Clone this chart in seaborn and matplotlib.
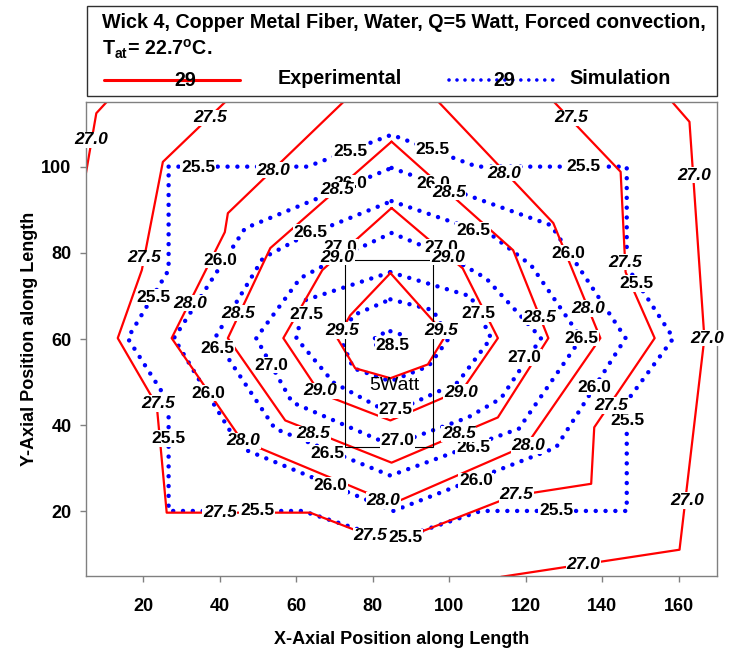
import matplotlib
matplotlib.use("Agg")
import matplotlib.pyplot as plt
from matplotlib.lines import Line2D
from matplotlib.patches import Rectangle
import pandas as pd
import seaborn as sns

# ---------------------------------------------------------------------------
# Isotherm vertices (x, y in mm) - experimental (measured) contours
# ---------------------------------------------------------------------------
exp_levels = [27.0, 27.0, 27.5, 28.0, 28.5, 29.0, 29.5]

exp_270a_x = [4.5, 7.7, 10.6]
exp_270a_y = [96.0, 112.4, 115.2]
exp_270b_x = [158.0, 162.8, 166.7, 160.2, 113.5]
exp_270b_y = [115.3, 110.4, 60.2, 11.1, 4.8]
exp_275_x = [41.4, 25.1, 19.6, 13.3, 23.5, 26.1, 63.6, 84.6, 116.7, 137.1, 137.9, 153.7, 146.1, 144.8, 127.4]
exp_275_y = [115.0, 101.1, 76.0, 60.2, 44.6, 19.7, 19.7, 12.5, 23.6, 26.4, 39.5, 60.2, 75.5, 98.8, 115.0]
exp_280_x = [72.3, 42.1, 41.3, 27.4, 45.8, 85.2, 120.1, 139.5, 127.2, 97.2]
exp_280_y = [115.0, 89.2, 84.8, 60.2, 36.4, 21.8, 35.3, 60.2, 86.9, 115.0]
exp_285_x = [84.9, 116.7, 125.9, 112.7, 84.9, 57.1, 42.1, 53.2]
exp_285_y = [105.8, 80.6, 60.2, 41.8, 31.3, 41.1, 60.2, 81.1]
exp_290_x = [84.9, 103.5, 112.7, 103.5, 84.6, 66.2, 56.6, 66.8]
exp_290_y = [90.4, 76.4, 60.2, 48.3, 41.1, 47.4, 60.2, 76.0]
exp_295_x = [84.6, 99.1, 94.4, 84.6, 75.4, 70.7, 74.1]
exp_295_y = [75.3, 60.9, 54.1, 50.9, 53.2, 60.2, 65.5]

# ---------------------------------------------------------------------------
# Isotherm vertices - simulation contours
# ---------------------------------------------------------------------------
sim_levels = [25.5, 26.0, 26.5, 27.0, 27.5, 28.0, 28.5]

sim_255_x = [26.6, 62.9, 84.9, 107.2, 146.4, 146.4, 158.6, 146.4, 146.4, 108.3, 85.2, 61.6, 26.6, 26.6, 15.9, 26.6]
sim_255_y = [100.0, 100.0, 107.4, 100.0, 100.0, 76.9, 60.2, 45.5, 20.1, 20.1, 13.2, 20.1, 20.1, 45.3, 60.2, 76.0]
sim_260_x = [84.9, 126.6, 146.1, 127.9, 85.4, 45.3, 28.0, 46.6]
sim_260_y = [99.7, 86.4, 60.2, 34.8, 20.1, 34.8, 60.2, 85.7]
sim_265_x = [84.9, 111.4, 121.4, 134.5, 118.2, 84.6, 54.4, 38.7, 51.3, 61.0]
sim_265_y = [92.0, 83.9, 77.1, 60.2, 39.2, 28.3, 39.2, 60.2, 78.8, 83.4]
sim_270_x = [84.9, 99.6, 109.6, 124.0, 113.5, 104.9, 84.9, 58.9, 49.5, 61.0, 70.2]
sim_270_y = [84.6, 79.2, 74.1, 60.2, 46.2, 41.8, 35.3, 45.3, 60.2, 74.1, 78.5]
sim_275_x = [84.6, 105.6, 110.9, 102.2, 84.6, 69.7, 60.0, 62.3]
sim_275_y = [75.5, 69.9, 60.2, 49.9, 42.7, 49.9, 60.2, 69.0]
sim_280_x = [84.6, 95.7, 99.9, 94.6, 84.6, 74.9, 71.5, 74.9]
sim_280_y = [69.2, 66.7, 60.2, 53.7, 50.2, 53.2, 60.2, 65.5]
sim_285_x = [84.6, 88.3, 89.4, 84.6, 79.9, 80.9]
sim_285_y = [61.8, 60.8, 59.0, 57.2, 59.0, 60.8]

# Heater footprint (mm)
heater_x = [72.8, 95.7]
heater_y = [35.0, 78.3]
heater_power = "5Watt"

x_ticks = [20, 40, 60, 80, 100, 120, 140, 160]
y_ticks = [20, 40, 60, 80, 100]


def polyline(level, xs, ys, piece, closed):
    xs, ys = list(xs), list(ys)
    if closed:
        xs.append(xs[0])
        ys.append(ys[0])
    return pd.DataFrame({"x": xs, "y": ys, "level": level, "piece": piece})


exp_df = pd.concat([
    polyline(exp_levels[0], exp_270a_x, exp_270a_y, "270a", False),
    polyline(exp_levels[1], exp_270b_x, exp_270b_y, "270b", False),
    polyline(exp_levels[2], exp_275_x, exp_275_y, "275", False),
    polyline(exp_levels[3], exp_280_x, exp_280_y, "280", False),
    polyline(exp_levels[4], exp_285_x, exp_285_y, "285", True),
    polyline(exp_levels[5], exp_290_x, exp_290_y, "290", True),
    polyline(exp_levels[6], exp_295_x, exp_295_y, "295", True),
], ignore_index=True)

sim_df = pd.concat([
    polyline(sim_levels[0], sim_255_x, sim_255_y, "255", True),
    polyline(sim_levels[1], sim_260_x, sim_260_y, "260", True),
    polyline(sim_levels[2], sim_265_x, sim_265_y, "265", True),
    polyline(sim_levels[3], sim_270_x, sim_270_y, "270", True),
    polyline(sim_levels[4], sim_275_x, sim_275_y, "275", True),
    polyline(sim_levels[5], sim_280_x, sim_280_y, "280", True),
    polyline(sim_levels[6], sim_285_x, sim_285_y, "285", True),
], ignore_index=True)

# ---------------------------------------------------------------------------
# Label placement along the isotherms
# ---------------------------------------------------------------------------
exp_label_spots = {
    27.0: [(6.4, 106.2), (163.9, 98.0), (167.3, 60.2), (162.1, 22.5), (135.0, 7.6)],
    27.5: [(37.5, 111.3), (20.3, 78.8), (23.8, 45.0), (40.0, 19.7), (79.4, 14.3),
           (117.5, 23.9), (142.4, 44.6), (146.1, 77.8), (131.9, 111.3)],
    28.0: [(54.0, 99.2), (32.2, 68.3), (46.1, 36.4), (82.8, 22.5), (120.6, 35.3),
           (136.3, 67.1), (114.3, 98.5)],
    28.5: [(70.7, 94.6), (99.9, 94.1), (44.8, 66.0), (123.5, 65.1), (64.4, 38.0), (102.5, 38.0)],
    29.0: [(70.7, 79.0), (99.6, 79.0), (66.2, 48.0), (103.0, 47.6)],
    29.5: [(72.0, 62.0), (97.8, 62.0)],
}
sim_label_spots = {
    25.5: [(34.3, 99.7), (74.1, 103.4), (95.7, 103.9), (135.2, 100.0), (22.7, 69.7),
           (26.6, 36.9), (148.9, 72.9), (146.6, 41.1), (49.7, 20.1), (88.6, 13.9), (127.9, 20.1)],
    26.0: [(40.1, 78.3), (36.9, 47.4), (68.9, 26.0), (107.0, 27.1), (137.8, 48.8),
           (131.1, 79.9), (74.1, 96.2), (95.7, 96.2)],
    26.5: [(63.7, 84.8), (106.2, 85.2), (39.3, 57.8), (134.5, 60.2), (68.1, 33.4), (106.2, 34.8)],
    27.0: [(53.5, 53.9), (86.5, 36.4), (119.6, 55.7), (71.5, 81.3), (97.8, 81.3)],
    27.5: [(62.6, 65.8), (107.7, 65.9), (85.9, 43.6)],
    28.5: [(85.2, 58.6)],
}

RED = "#FF0000"
BLUE = "#0000FF"
DOTS = (0, (0.01, 2.2))
LABEL_FONT = 12.5
FONT = ["Liberation Sans", "DejaVu Sans"]

sns.set_theme(style="white")
plt.rcParams["font.family"] = FONT
plt.rcParams["mathtext.fontset"] = "custom"
plt.rcParams["mathtext.rm"] = "Liberation Sans:bold"
plt.rcParams["text.color"] = "black"
plt.rcParams["axes.labelcolor"] = "black"
plt.rcParams["xtick.color"] = "black"
plt.rcParams["ytick.color"] = "black"

W, H = 738, 653
fig = plt.figure(figsize=(W / 100, H / 100), dpi=100)
ax = fig.add_axes([86 / W, 1 - 576 / H, (717 - 86) / W, (576 - 102) / H])

sns.lineplot(data=sim_df, x="x", y="y", units="piece", estimator=None, sort=False,
             color=BLUE, linewidth=3.2, linestyle=DOTS, dash_capstyle="round",
             legend=False, ax=ax, zorder=2)
sns.lineplot(data=exp_df, x="x", y="y", units="piece", estimator=None, sort=False,
             color=RED, linewidth=1.6, legend=False, ax=ax, zorder=2.2)

ax.add_patch(Rectangle((heater_x[0], heater_y[0]), heater_x[1] - heater_x[0],
                       heater_y[1] - heater_y[0], fill=False, ec="black", lw=0.8, zorder=2.5))
ax.text((heater_x[0] + heater_x[1]) / 2 + 1.5, 49.2, heater_power, fontsize=14,
        ha="center", va="center", color="black", zorder=3)

box = dict(boxstyle="square,pad=0.04", fc="white", ec="none")
for level, spots in sim_label_spots.items():
    for (lx, ly) in spots:
        ax.text(lx, ly, f"{level:.1f}", fontsize=LABEL_FONT, fontweight="bold",
                ha="center", va="center", bbox=box, zorder=3)
for level, spots in exp_label_spots.items():
    for (lx, ly) in spots:
        ax.text(lx, ly, f"{level:.1f}", fontsize=LABEL_FONT, fontweight="bold",
                fontstyle="italic", ha="center", va="center", bbox=box, zorder=4)

ax.set_xlim(5, 170)
ax.set_ylim(5, 115)
ax.set_xticks(x_ticks)
ax.set_yticks(y_ticks)
ax.set_xticklabels([str(t) for t in x_ticks], fontsize=13, fontweight="bold")
ax.set_yticklabels([str(t) for t in y_ticks], fontsize=13, fontweight="bold")
ax.tick_params(axis="both", direction="out", length=4.5, width=1, color="#808080",
               bottom=True, left=True, top=False, right=False)
ax.tick_params(axis="x", pad=11)
ax.tick_params(axis="y", pad=6)
for side in ["left", "bottom", "top", "right"]:
    ax.spines[side].set_visible(True)
    ax.spines[side].set_color("#808080")
    ax.spines[side].set_linewidth(1.0)
ax.set_xlabel("X-Axial Position along Length", fontsize=13, fontweight="bold", labelpad=12)
ax.set_ylabel("Y-Axial Position along Length", fontsize=13, fontweight="bold", labelpad=2)
ax.grid(False)

# Header box with case description and line key
def fx(px):
    return px / W


def fy(py):
    return 1 - py / H


HEAD = 14.2
fig.add_artist(Rectangle((fx(87), fy(96)), fx(717) - fx(87), fy(6) - fy(96),
                         transform=fig.transFigure, fill=False, ec="#303030", lw=1.0))
fig.text(fx(102), fy(23), "Wick 4, Copper Metal Fiber, Water, Q=5 Watt, Forced convection,",
         fontsize=HEAD, fontweight="bold", ha="left", va="center")
fig.text(fx(102), fy(49), r"T$_{\mathregular{at}}$= 22.7$^{\mathregular{o}}$C.",
         fontsize=HEAD, fontweight="bold", ha="left", va="center")
fig.add_artist(Line2D([fx(104), fx(240)], [fy(80), fy(80)], transform=fig.transFigure,
                      color=RED, lw=2.2))
fig.text(fx(185), fy(81), "29", fontsize=HEAD, fontweight="bold", ha="center", va="center")
fig.text(fx(278), fy(78), "Experimental", fontsize=HEAD, fontweight="bold", ha="left", va="center")
fig.add_artist(Line2D([fx(449), fx(557)], [fy(80), fy(80)], transform=fig.transFigure,
                      color=BLUE, lw=2.6, linestyle=(0, (0.01, 2.2)), dash_capstyle="round"))
fig.text(fx(504), fy(81), "29", fontsize=HEAD, fontweight="bold", ha="center", va="center")
fig.text(fx(569), fy(78), "Simulation", fontsize=HEAD, fontweight="bold", ha="left", va="center")

fig.savefig("out.png", dpi=100)
